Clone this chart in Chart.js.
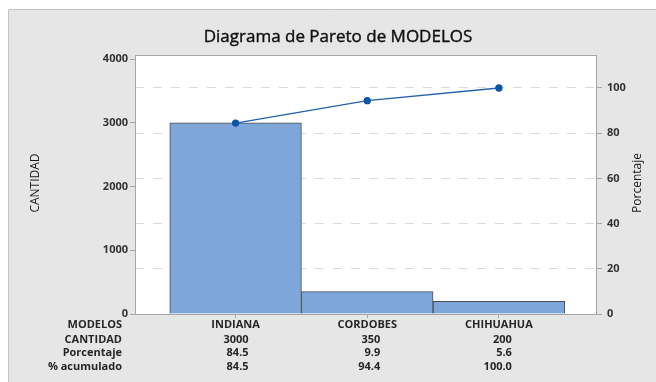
<!DOCTYPE html>
<html>
<head>
<meta charset="utf-8">
<script src="https://cdn.jsdelivr.net/npm/chart.js@4.4.0/dist/chart.umd.min.js"></script>
<style>
  html, body { margin: 0; padding: 0; background: #fff; }
  #wrap { width: 656px; height: 382px; position: relative; }
</style>
</head>
<body>
<div id="wrap"><canvas id="pareto"></canvas></div>
<script>
// Datos del diagrama de Pareto
const modelos = ['INDIANA', 'CORDOBES', 'CHIHUAHUA'];
const cantidad = [3000, 350, 200];
const porcentaje = [84.5, 9.9, 5.6];
const acumulado = [84.5, 94.4, 100.0];
const filas = ['MODELOS', 'CANTIDAD', 'Porcentaje', '% acumulado'];
const ticksCantidad = [0, 1000, 2000, 3000, 4000];
const ticksPorcentaje = [0, 20, 40, 60, 80, 100];

const fuente = "'Open Sans', 'Noto Sans', sans-serif";

// Fondo, titulos, marco del grafico y tabla inferior
const decoracion = {
  id: 'decoracion',
  beforeDraw(chart) {
    const ctx = chart.ctx;
    const a = chart.chartArea;
    ctx.save();
    ctx.fillStyle = '#ffffff';
    ctx.fillRect(0, 0, chart.width, chart.height);
    ctx.fillStyle = '#e6e6e6';
    ctx.fillRect(8, 9, chart.width - 8, chart.height - 9);
    ctx.strokeStyle = '#c4c4c4';
    ctx.lineWidth = 1;
    ctx.beginPath();
    ctx.moveTo(8.5, chart.height);
    ctx.lineTo(8.5, 9.5);
    ctx.lineTo(chart.width, 9.5);
    ctx.stroke();
    ctx.fillStyle = '#ffffff';
    ctx.fillRect(a.left, a.top, a.right - a.left, a.bottom - a.top);
    ctx.restore();
  },
  afterDraw(chart) {
    const ctx = chart.ctx;
    const a = chart.chartArea;
    const x = chart.scales.x;
    ctx.save();
    // marco del area de trazado
    ctx.strokeStyle = '#a6a6a6';
    ctx.lineWidth = 1;
    ctx.strokeRect(a.left + 0.5, a.top + 0.5, a.right - a.left - 1, a.bottom - a.top);

    // titulo (trazo fino para engrosar un poco la letra)
    ctx.fillStyle = '#111111';
    ctx.strokeStyle = '#111111';
    ctx.lineWidth = 0.4;
    ctx.font = '17px ' + fuente;
    ctx.textAlign = 'center';
    ctx.textBaseline = 'alphabetic';
    ctx.fillText('Diagrama de Pareto de MODELOS', 338, 42);
    ctx.strokeText('Diagrama de Pareto de MODELOS', 338, 42);

    // titulos de los ejes
    ctx.font = '12px ' + fuente;
    ctx.textBaseline = 'middle';
    ctx.fillStyle = '#1a1a1a';
    ctx.save();
    ctx.translate(36, 183);
    ctx.rotate(-Math.PI / 2);
    ctx.fillText('CANTIDAD', 0, 0);
    ctx.restore();
    ctx.save();
    ctx.translate(638, 183);
    ctx.rotate(-Math.PI / 2);
    ctx.fillText('Porcentaje', 0, 0);
    ctx.restore();

    // tabla bajo el eje x
    const ys = [325, 340, 353, 367];
    ctx.fillStyle = '#262626';
    ctx.font = 'bold 11px ' + fuente;
    ctx.textAlign = 'right';
    filas.forEach((f, i) => ctx.fillText(f, 122, ys[i]));
    modelos.forEach((m, i) => {
      const cx = x.getPixelForValue(i);
      ctx.textAlign = 'center';
      ctx.fillText(m, cx, ys[0]);
      ctx.textAlign = 'right';
      ctx.fillText(String(cantidad[i]), cx + 13, ys[1]);
      ctx.fillText(porcentaje[i].toFixed(1), cx + 13, ys[2]);
      ctx.fillText(acumulado[i].toFixed(1), cx + 13, ys[3]);
    });
    ctx.restore();
  }
};

const ctx = document.getElementById('pareto').getContext('2d');

new Chart(ctx, {
  data: {
    datasets: [
      {
        type: 'line',
        data: acumulado.map((v, i) => ({ x: i, y: v })),
        yAxisID: 'y1',
        borderColor: '#2361ab',
        borderWidth: 1.3,
        pointRadius: 3,
        pointBackgroundColor: '#0b55a4',
        pointBorderColor: '#0b55a4',
        order: 0
      },
      {
        type: 'bar',
        data: cantidad.map((v, i) => ({ x: i, y: v })),
        yAxisID: 'y',
        backgroundColor: '#7ea6d8',
        borderColor: '#4a4f57',
        borderWidth: 1,
        barPercentage: 1,
        categoryPercentage: 1,
        order: 1
      }
    ]
  },
  options: {
    responsive: true,
    maintainAspectRatio: false,
    devicePixelRatio: 1,
    animation: false,
    layout: { padding: { left: 0, right: 0, top: 55, bottom: 64 } },
    plugins: {
      legend: { display: false },
      tooltip: { enabled: false }
    },
    scales: {
      x: {
        type: 'linear',
        offset: false,
        min: -0.764,
        max: 2.745,
        afterFit: s => { s.height = 4; },
        afterBuildTicks: s => { s.ticks = modelos.map((m, i) => ({ value: i })); },
        ticks: { display: false },
        grid: { offset: false, drawOnChartArea: false, tickLength: 4, tickColor: '#a6a6a6' },
        border: { display: false }
      },
      y: {
        position: 'left',
        min: 0,
        max: 4063,
        afterFit: s => { s.width = 135; },
        afterBuildTicks: s => { s.ticks = ticksCantidad.map(v => ({ value: v })); },
        ticks: {
          padding: 2,
          color: '#333333',
          font: { family: fuente, size: 11, weight: 'bold' },
          callback: v => String(v)
        },
        grid: { drawOnChartArea: false, tickLength: 5, tickColor: '#a6a6a6' },
        border: { display: false }
      },
      y1: {
        position: 'right',
        min: 0,
        max: 114.6,
        afterFit: s => { s.width = 59; },
        afterBuildTicks: s => { s.ticks = ticksPorcentaje.map(v => ({ value: v })); },
        ticks: {
          padding: 5,
          color: '#333333',
          font: { family: fuente, size: 11, weight: 'bold' },
          callback: v => String(v)
        },
        grid: {
          drawOnChartArea: true,
          tickLength: 5,
          tickColor: '#a6a6a6',
          color: c => (c.tick && c.tick.value === 0) ? 'rgba(0,0,0,0)' : '#dadada'
        },
        border: { display: false, dash: [9, 9] }
      }
    }
  },
  plugins: [decoracion]
});
</script>
</body>
</html>
